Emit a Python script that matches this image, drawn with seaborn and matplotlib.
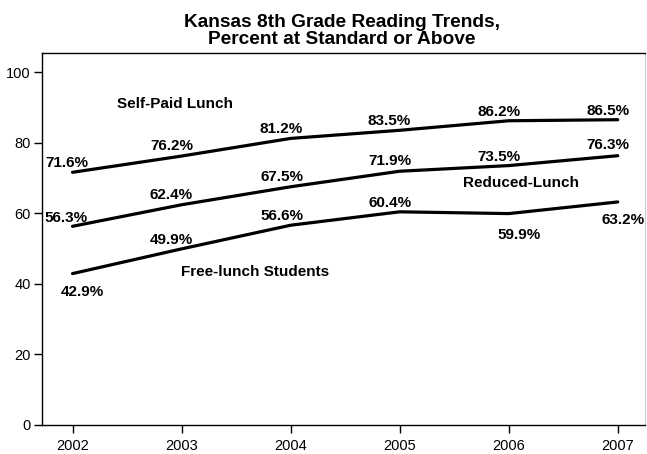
import numpy as np
import pandas as pd
import matplotlib
matplotlib.use("Agg")
import matplotlib.pyplot as plt
import seaborn as sns

years = [2002, 2003, 2004, 2005, 2006, 2007]
self_paid = [71.6, 76.2, 81.2, 83.5, 86.2, 86.5]
reduced = [56.3, 62.4, 67.5, 71.9, 73.5, 76.3]
free = [42.9, 49.9, 56.6, 60.4, 59.9, 63.2]
series_names = ["Self-Paid Lunch", "Reduced-Lunch", "Free-lunch Students"]
y_ticks = [0, 20, 40, 60, 80, 100]

df = pd.DataFrame({
    "year": years * 3,
    "value": self_paid + reduced + free,
    "group": [series_names[0]] * 6 + [series_names[1]] * 6 + [series_names[2]] * 6,
})

sns.set_style("white")
plt.rcParams['font.family'] = ['Liberation Sans', 'DejaVu Sans']
plt.rcParams['text.color'] = 'black'
plt.rcParams['xtick.color'] = 'black'
plt.rcParams['ytick.color'] = 'black'

fig = plt.figure(figsize=(6.47, 4.54), dpi=100)
ax = fig.add_axes([42/647, 1-425/454, (645-42)/647, (425-53)/454])

sns.lineplot(data=df, x="year", y="value", units="group", estimator=None,
             color="black", linewidth=2.3, ax=ax, legend=False)

ax.set_xlim(2001.72, 2007.25)
ax.set_ylim(0, 105.4)
ax.set_xticks(years)
ax.set_yticks(y_ticks)
ax.set_xlabel("")
ax.set_ylabel("")
ax.tick_params(axis="both", direction="out", length=6, width=1, color="black",
               labelsize=10.5, pad=2, bottom=True, left=True, labelcolor="black")
ax.tick_params(axis="x", pad=4)
for s in ["left", "bottom", "top"]:
    ax.spines[s].set_color("black")
    ax.spines[s].set_linewidth(1.0)
ax.spines["right"].set_color("#cccccc")
ax.spines["right"].set_linewidth(0.8)

fs = 11
# value label offsets (data units relative to each point)
sp_off = [(-0.055, 2.6), (-0.092, 2.8), (-0.083, 2.7), (-0.092, 2.6), (-0.092, 2.5), (-0.092, 2.5)]
rd_off = [(-0.055, 2.3), (-0.092, 2.8), (-0.083, 2.8), (-0.092, 2.9), (-0.092, 2.4), (-0.092, 3.0)]
fr_off = [(0.09, -5.2), (-0.092, 2.5), (-0.083, 2.6), (-0.092, 2.5), (0.10, -6.1), (0.05, -5.1)]
for vals, offs in [(self_paid, sp_off), (reduced, rd_off), (free, fr_off)]:
    for x, v, (dx, dy) in zip(years, vals, offs):
        ax.text(x + dx, v + dy, f"{v}%", ha="center", va="center",
                fontsize=fs, fontweight="bold", color="black")

ax.text(2002.94, 90.9, series_names[0], ha="center", va="center", fontsize=fs, fontweight="bold")
ax.text(2006.11, 68.6, series_names[1], ha="center", va="center", fontsize=fs, fontweight="bold")
ax.text(2003.67, 43.3, series_names[2], ha="center", va="center", fontsize=fs, fontweight="bold")

fig.text(342/647, 1-31/454, "Kansas 8th Grade Reading Trends,\nPercent at Standard or Above",
         ha="center", va="center", fontsize=13.8, fontweight="bold", linespacing=1.0)

fig.savefig("out.png", dpi=100)
